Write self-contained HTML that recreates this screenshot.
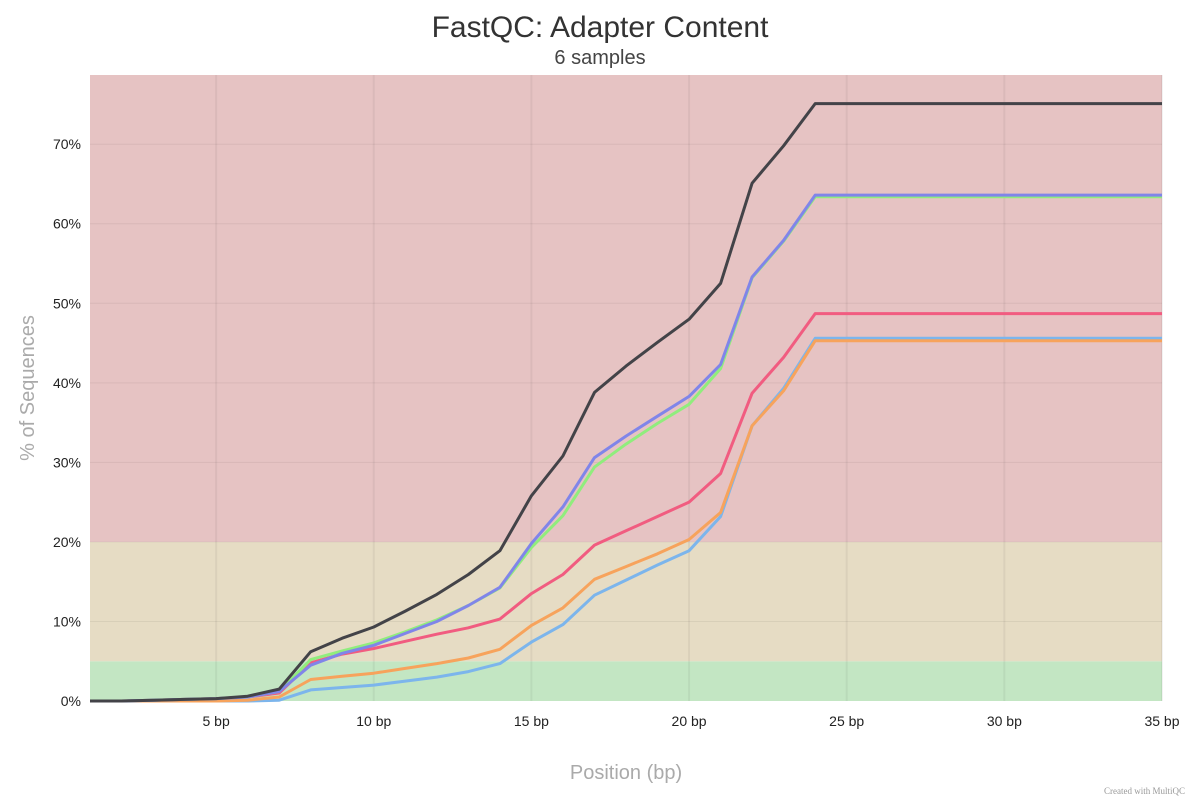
<!DOCTYPE html>
<html><head><meta charset="utf-8">
<style>
html,body{margin:0;padding:0;background:#fff;}
svg{display:block;font-family:"Liberation Sans",sans-serif;}
</style></head>
<body>
<svg id="chart" width="1200" height="800" xmlns="http://www.w3.org/2000/svg">
<text x="600" y="37" text-anchor="middle" font-size="30" fill="#333">FastQC: Adapter Content</text>
<text x="600" y="64" text-anchor="middle" font-size="20" fill="#444">6 samples</text>
<g id="bands"></g>
<g id="grid"></g>
<g id="series"></g>
<g id="axes"></g>
<text transform="translate(34,388) rotate(-90)" text-anchor="middle" font-size="20" fill="#aaa">% of Sequences</text>
<text x="626" y="779" text-anchor="middle" font-size="20" fill="#aaa">Position (bp)</text>
<text x="1185" y="794" text-anchor="end" font-size="9" fill="#999" font-family="Liberation Serif,serif">Created with MultiQC</text>
</svg>
<script>
const positions=[1,2,3,4,5,6,7,8,9,10,11,12,13,14,15,16,17,18,19,20,21,22,23,24,25,26,27,28,29,30,31,32,33,34,35];
const flat=(v)=>Array(11).fill(v);
const sBlack=[0,0,0.1,0.2,0.3,0.6,1.5,6.2,7.9,9.3,11.3,13.4,15.9,18.9,25.8,30.8,38.8,42.1,45.1,48.0,52.5,65.1,69.8,75.1].concat(flat(75.1));
const sPurple=[0,0,0.1,0.2,0.3,0.5,1.2,4.5,6.0,7.0,8.5,10.0,12.0,14.3,19.8,24.4,30.6,33.3,35.8,38.3,42.3,53.3,57.9,63.6].concat(flat(63.6));
const sGreen=[0,0,0.1,0.2,0.3,0.5,1.2,5.2,6.3,7.3,8.7,10.2,12.0,14.2,19.3,23.3,29.4,32.3,34.9,37.3,41.8,53.2,57.8,63.4].concat(flat(63.4));
const sPink=[0,0,0.1,0.2,0.3,0.5,1.0,4.8,5.9,6.6,7.5,8.4,9.2,10.3,13.5,15.9,19.6,21.4,23.2,25.0,28.6,38.7,43.2,48.7].concat(flat(48.7));
const sOrange=[0,0,0,0,0,0.1,0.5,2.7,3.1,3.5,4.1,4.7,5.4,6.5,9.5,11.7,15.3,16.9,18.5,20.3,23.7,34.6,39.0,45.3].concat(flat(45.3));
const sBlue=[0,0,0,0,0,0,0.1,1.4,1.7,2.0,2.5,3.0,3.7,4.7,7.4,9.6,13.3,15.2,17.1,18.9,23.2,34.6,39.3,45.6].concat(flat(45.6));
const seriesList=[["sample-light-blue",sBlue,"#7cb5ec"],["sample-orange",sOrange,"#f7a35c"],["sample-pink",sPink,"#f15c80"],["sample-green",sGreen,"#90ed7d"],["sample-purple",sPurple,"#8085e9"],["sample-black",sBlack,"#434348"]];
const xTicks=[5,10,15,20,25,30,35];
const yTicks=[0,10,20,30,40,50,60,70];
const bandDefs=[[0,5,"#c3e6c3"],[5,20,"#e6dcc4"],[20,78.7,"#e6c3c3"]];
const L=90,R=1162,T=75,B=701,xMin=1,xMax=35,yMax=78.7;
const X=v=>L+(v-xMin)/(xMax-xMin)*(R-L);
const Y=v=>B-v/yMax*(B-T);
const NS="http://www.w3.org/2000/svg";
function mk(tag,attrs,parent){const e=document.createElementNS(NS,tag);for(const k in attrs)e.setAttribute(k,attrs[k]);parent.appendChild(e);return e;}
const gb=document.getElementById('bands'),gg=document.getElementById('grid'),gs=document.getElementById('series'),ga=document.getElementById('axes');
bandDefs.forEach(b=>{const r=mk('rect',{x:L,y:Y(b[1]),width:R-L,height:Y(b[0])-Y(b[1]),fill:b[2]},gb);

});
xTicks.forEach(t=>{const l=mk('line',{x1:X(t),x2:X(t),y1:T,y2:B,stroke:"rgba(0,0,0,0.05)","stroke-width":2},gg);


const tx=mk('text',{x:X(t),y:726,"text-anchor":"middle","font-size":14,fill:"#222"},ga);tx.textContent=t+" bp";

});
yTicks.forEach(t=>{if(t>0){const l=mk('line',{x1:L,x2:R,y1:Y(t),y2:Y(t),stroke:"rgba(0,0,0,0.06)","stroke-width":1},gg);

}
const tx=mk('text',{x:81,y:Y(t)+5,"text-anchor":"end","font-size":14,fill:"#222"},ga);tx.textContent=t+"%";

});
seriesList.forEach(s=>{const d=positions.map((p,i)=>(i?"L":"M")+X(p).toFixed(1)+","+Y(s[1][i]).toFixed(1)).join(" ");
const p=mk('path',{d:d,fill:"none",stroke:s[2],"stroke-width":3,"stroke-linejoin":"round"},gs);

});
</script>
</body></html>
